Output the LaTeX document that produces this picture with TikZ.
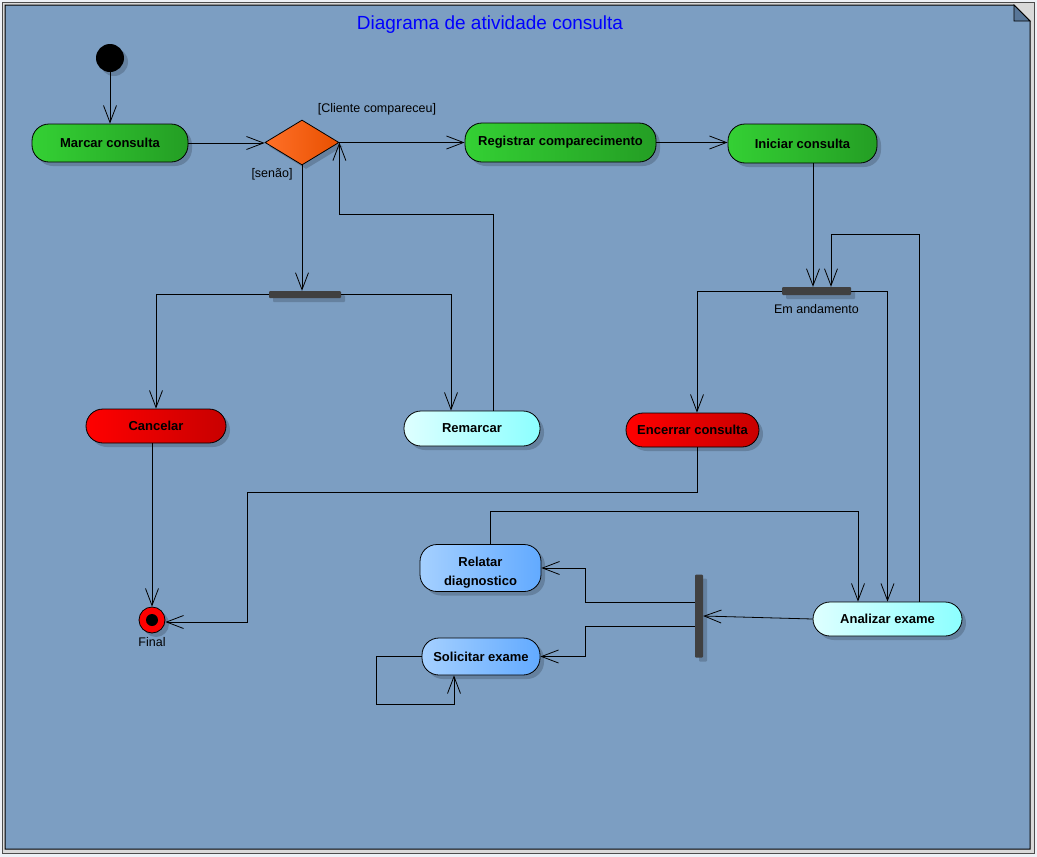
\documentclass[tikz,border=0pt]{standalone}
\usepackage{fontspec}
\setmainfont{Liberation Sans}
\usetikzlibrary{shapes.geometric,shadows,arrows.meta}

\definecolor{pagebg}{RGB}{238,241,246}
\definecolor{framebg}{RGB}{124,158,194}
\definecolor{folddark}{RGB}{88,118,152}
\definecolor{greenl}{RGB}{52,208,52}
\definecolor{greenr}{RGB}{36,158,36}
\definecolor{redl}{RGB}{255,0,0}
\definecolor{redr}{RGB}{200,0,0}
\definecolor{cyanl}{RGB}{222,255,255}
\definecolor{cyanr}{RGB}{140,255,255}
\definecolor{bluel}{RGB}{165,208,255}
\definecolor{bluer}{RGB}{98,170,255}
\definecolor{orangel}{RGB}{255,112,40}
\definecolor{oranger}{RGB}{232,80,0}
\definecolor{barcol}{RGB}{64,64,64}
\definecolor{titleblue}{RGB}{0,0,255}

\begin{document}
\begin{tikzpicture}[x=1pt,y=-1pt,
    >={Straight Barb[length=17pt,width=13pt]},
    flow/.style={->,line width=0.8pt},
    shade/.style={drop shadow={shadow xshift=4pt,shadow yshift=-4pt,fill=black,opacity=0.18}},
    act/.style={rectangle,draw,line width=0.8pt,rounded corners=17pt,inner sep=0pt,
        font=\fontsize{13}{19}\selectfont\bfseries,align=center,shade},
    greenact/.style={act,left color=greenl,right color=greenr},
    redact/.style={act,left color=redl,right color=redr},
    cyanact/.style={act,left color=cyanl,right color=cyanr},
    blueact/.style={act,left color=bluel,right color=bluer},
    bar/.style={rectangle,fill=barcol,inner sep=0pt,rounded corners=1pt,shade},
    guard/.style={font=\fontsize{12.5}{14}\selectfont}]

    % Page and frame
    \fill[pagebg] (0,0) rectangle (1037,857);
    \useasboundingbox (0,0) rectangle (1037,857);
    \draw[black!70,fill=black!15,line width=0.6pt] (2,2) rectangle (1034,853);
    \draw[fill=framebg,line width=1pt] (5,5) -- (1014,5) -- (1030,21) -- (1030,849) -- (5,849) -- cycle;
    \draw[fill=folddark,line width=0.8pt] (1014,5) -- (1014,21) -- (1030,21) -- cycle;
    \node[font=\fontsize{19}{22}\selectfont,text=titleblue] (title) at (490,25) {Diagrama de atividade consulta};

    % Nodes
    \node[circle,fill=black,minimum size=28pt,inner sep=0pt,shade] (start) at (110,58) {};
    \node[greenact,minimum width=156pt,minimum height=38pt] (marcar) at (110,143) {Marcar consulta};
    \node[diamond,draw,line width=0.8pt,left color=orangel,right color=oranger,
          minimum width=74pt,minimum height=45pt,inner sep=0pt,shade] (decisao) at (302,142.5) {};
    \node[greenact,minimum width=191pt,minimum height=39pt] (registrar) at (560.5,142.5) {Registrar comparecimento};
    \node[greenact,minimum width=149pt,minimum height=39pt] (iniciar) at (802.5,143.5) {Iniciar consulta};
    \node[bar,minimum width=72pt,minimum height=7pt] (forkA) at (305,294.5) {};
    \node[redact,minimum width=140pt,minimum height=34pt] (cancelar) at (156,426) {Cancelar};
    \node[cyanact,minimum width=136pt,minimum height=35pt] (remarcar) at (472,428.5) {Remarcar};
    \node[bar,minimum width=69pt,minimum height=8pt,
          label={[guard,label distance=6pt]below:Em andamento}] (forkB) at (816.5,291) {};
    \node[redact,minimum width=133pt,minimum height=34pt] (encerrar) at (692.5,430) {Encerrar consulta};
    \node[cyanact,minimum width=149pt,minimum height=34pt] (analizar) at (887.5,619) {Analizar exame};
    \node[blueact,minimum width=121pt,minimum height=47pt,text height=37pt] (relatar) at (480.5,568) {Relatar\\diagnostico};
    \node[blueact,minimum width=118pt,minimum height=37pt] (solicitar) at (481,656.5) {Solicitar exame};
    \node[bar,minimum width=8pt,minimum height=83pt] (forkC) at (699,616) {};
    \node[circle,draw,line width=0.8pt,fill=red,minimum size=26pt,inner sep=0pt,shade,
          label={[guard,label distance=1pt]below:Final}] (final) at (152,620) {};
    \fill (final.center) circle (6pt);

    % Guards
    \node[guard] (gsim) at (377,109) {[Cliente compareceu]};
    \node[guard] (gnao) at (272,174) {[senão]};

    % Flows
    \draw[flow] (start) -- (marcar);
    \draw[flow] (marcar.east) -- (marcar.east -| decisao.west);
    \draw[flow] (decisao.east) -- (registrar.west);
    \draw[flow] (registrar.east) -- (registrar.east -| iniciar.west);
    \draw[flow] (decisao.south) -- (decisao.south |- forkA.north);
    \draw[flow] (forkA.west) -| (cancelar.north);
    \draw[flow] (forkA.east) -| ([xshift=-21pt]remarcar.north);
    \draw[flow] ([xshift=21pt]remarcar.north) |- ([yshift=-72pt]decisao.east) -- (decisao.east);
    \draw[flow] (final.north |- cancelar.south) -- (final.north);
    \draw[flow] ([xshift=4.5pt]encerrar.south) -- ++(0,45) -| ([xshift=82pt,yshift=-2pt]final.east) -- ([yshift=-2pt]final.east);
    \draw[flow] ([xshift=10.5pt]iniciar.south) -- ([xshift=10.5pt]iniciar.south |- forkB.north);
    \draw[flow] ([xshift=31.5pt]analizar.north) |- ([xshift=14.5pt,yshift=52pt]forkB.north) -- ([xshift=14.5pt]forkB.north);
    \draw[flow] (forkB.west) -| ([xshift=4.5pt]encerrar.north);
    \draw[flow] (forkB.east) -| (analizar.north);
    \draw[flow] ([xshift=9.5pt]relatar.north) |- ([xshift=-29.5pt,yshift=90pt]analizar.north) -- ([xshift=-29.5pt]analizar.north);
    \draw[flow] (analizar.west) -- (forkC.east);
    \draw[flow] ([yshift=14pt]forkC.west) -- ++(-109,0) |- (relatar.east);
    \draw[flow] ([yshift=-10pt]forkC.west) -- ++(-109,0) |- (solicitar.east);
    \draw[flow] (solicitar.west) -- ++(-45,0) -- ++(0,47.5) -| ([xshift=-27pt]solicitar.south);
\end{tikzpicture}
\end{document}
